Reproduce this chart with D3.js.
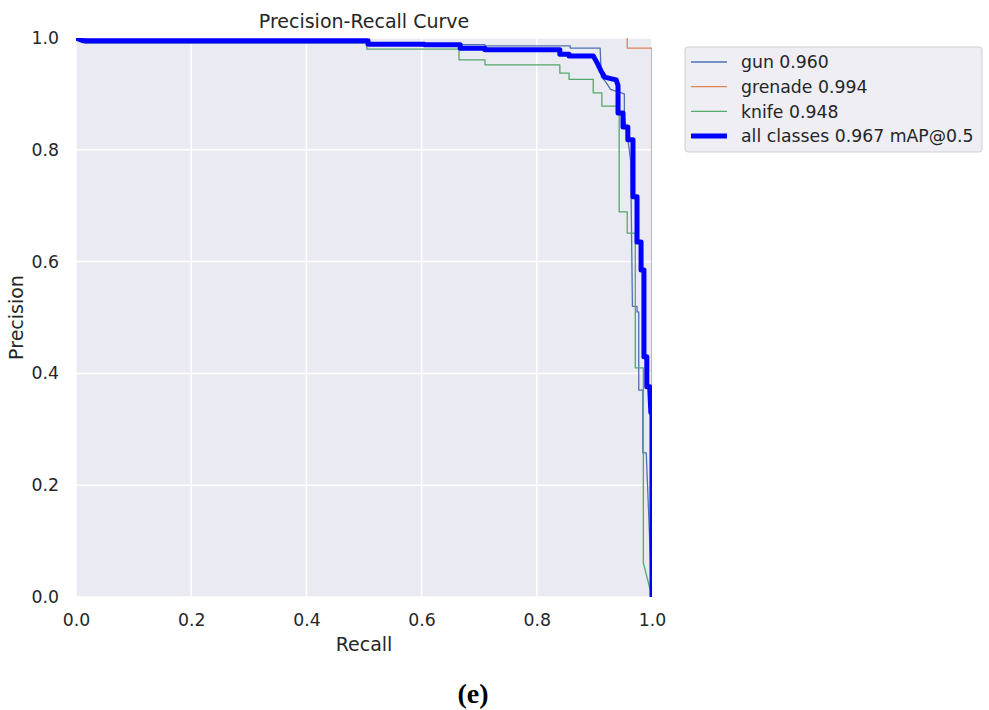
<!DOCTYPE html>
<html>
<head>
<meta charset="utf-8">
<script src="https://cdn.jsdelivr.net/npm/d3@7"></script>
<style>
  body { margin: 0; background: #fff; }
  text { font-family: "DejaVu Sans", sans-serif; fill: #262626; }
</style>
</head>
<body>
<div id="chart"></div>
<script>
// ticks shared by both axes
const ticks = [0, 0.2, 0.4, 0.6, 0.8, 1.0];

// [recall, precision] points
const gunPts = [[0,1],[0.015,1],[0.015,0.991],[0.507,0.991],[0.507,0.988],[0.71,0.988],[0.71,0.986],[0.858,0.986],[0.858,0.982],[0.91,0.982],
  [0.912,0.93],[0.917,0.925],[0.922,0.918],[0.928,0.908],[0.952,0.90],[0.952,0.86],[0.958,0.82],[0.963,0.78],[0.966,0.52],[0.974,0.52],
  [0.974,0.51],[0.977,0.51],[0.977,0.37],[0.984,0.37],[0.984,0.258],[0.99,0.258],[1.0,0]];
const grenadePts = [[0.957,1],[0.957,0.982],[1.0,0.982],[1.0,0]];
const knifePts = [[0,1],[0.01,0.993],[0.505,0.993],[0.505,0.98],[0.665,0.98],[0.665,0.961],[0.71,0.961],[0.71,0.952],[0.84,0.952],[0.84,0.937],
  [0.856,0.937],[0.856,0.926],[0.898,0.926],[0.898,0.902],[0.913,0.902],[0.913,0.878],[0.943,0.878],[0.943,0.689],[0.957,0.689],[0.957,0.651],
  [0.971,0.651],[0.971,0.41],[0.985,0.41],[0.985,0.061],[1.0,0]];
const allPts = [[0,1],[0.012,0.995],[0.507,0.995],[0.507,0.989],[0.605,0.989],[0.605,0.988],[0.667,0.988],[0.667,0.9815],[0.71,0.9815],[0.71,0.979],
  [0.84,0.979],[0.84,0.971],[0.856,0.971],[0.856,0.968],[0.898,0.968],[0.905,0.955],[0.912,0.94],[0.918,0.93],[0.93,0.927],[0.938,0.925],
  [0.941,0.915],[0.941,0.866],[0.9497,0.866],[0.9497,0.841],[0.958,0.841],[0.958,0.818],[0.967,0.818],[0.967,0.716],[0.974,0.716],[0.974,0.635],
  [0.981,0.635],[0.981,0.585],[0.986,0.585],[0.986,0.43],[0.991,0.43],[0.991,0.376],[0.996,0.376],[0.998,0.33],[1.0,0.33],[1.0,0]];

const seriesNames = ["gun 0.960", "grenade 0.994", "knife 0.948", "all classes 0.967 mAP@0.5"];
const seriesColors = ["#4c72b0", "#dd8452", "#55a868", "#0000ff"];
const seriesWidths = [1.3, 1.3, 1.3, 5];
const seriesPts = [gunPts, grenadePts, knifePts, allPts];

const margin = {top: 38, left: 76};
const width = 576, height = 559;

const svg = d3.select("#chart").append("svg")
    .attr("width", 989)
    .attr("height", 710);

const g = svg.append("g")
    .attr("transform", `translate(${margin.left},${margin.top})`);

const x = d3.scaleLinear().domain([0, 1]).range([0, width]);
const y = d3.scaleLinear().domain([0, 1]).range([height, 0]);

// background + grid
g.append("rect")
    .attr("width", width)
    .attr("height", height)
    .attr("fill", "#eaeaf2");

g.selectAll(".gx").data(ticks).join("line")
    .attr("x1", d => x(d)).attr("x2", d => x(d))
    .attr("y1", 0).attr("y2", height)
    .attr("stroke", "#fff").attr("stroke-width", 1.5);

g.selectAll(".gy").data(ticks).join("line")
    .attr("y1", d => y(d)).attr("y2", d => y(d))
    .attr("x1", 0).attr("x2", width)
    .attr("stroke", "#fff").attr("stroke-width", 1.5);

// axes (labels only, seaborn style)
const xAxis = g.append("g")
    .attr("transform", `translate(0,${height})`)
    .call(d3.axisBottom(x).tickValues(ticks).tickFormat(d3.format(".1f")).tickSize(0).tickPadding(17));
const yAxis = g.append("g")
    .call(d3.axisLeft(y).tickValues(ticks).tickFormat(d3.format(".1f")).tickSize(0).tickPadding(17));
[xAxis, yAxis].forEach(a => {
    a.select(".domain").remove();
    a.selectAll("text").attr("font-size", "17.3px").attr("fill", "#262626")
        .attr("font-family", "DejaVu Sans");
});

// curves
svg.append("defs").append("clipPath").attr("id", "clip")
    .append("rect").attr("width", width).attr("height", height);

const line = d3.line().x(d => x(d[0])).y(d => y(d[1]));

const plot = g.append("g").attr("clip-path", "url(#clip)");
seriesPts.forEach((pts, i) => {
    plot.append("path")
        .datum(pts)
        .attr("fill", "none")
        .attr("stroke", seriesColors[i])
        .attr("stroke-width", seriesWidths[i])
        .attr("stroke-linejoin", "round")
        .attr("d", line);
});

// titles
svg.append("text")
    .attr("x", margin.left + width / 2)
    .attr("y", 28)
    .attr("text-anchor", "middle")
    .attr("font-size", "19px")
    .text("Precision-Recall Curve");

svg.append("text")
    .attr("x", margin.left + width / 2)
    .attr("y", 651)
    .attr("text-anchor", "middle")
    .attr("font-size", "19px")
    .text("Recall");

svg.append("text")
    .attr("transform", `translate(23,${margin.top + height / 2}) rotate(-90)`)
    .attr("text-anchor", "middle")
    .attr("font-size", "19px")
    .text("Precision");

svg.append("text")
    .attr("x", 473)
    .attr("y", 703)
    .attr("text-anchor", "middle")
    .attr("font-size", "28px")
    .attr("font-weight", "bold")
    .style("font-family", "'Liberation Serif', serif")
    .style("fill", "#000")
    .text("(e)");

// legend
const legend = svg.append("g").attr("transform", "translate(685,47)");
legend.append("rect")
    .attr("width", 297)
    .attr("height", 105)
    .attr("rx", 3)
    .attr("fill", "#eeeef4")
    .attr("stroke", "#d0d0d0");

seriesNames.forEach((name, i) => {
    const ly = 15 + i * 24.7;
    legend.append("line")
        .attr("x1", 6).attr("x2", 42)
        .attr("y1", ly).attr("y2", ly)
        .attr("stroke", seriesColors[i])
        .attr("stroke-width", seriesWidths[i]);
    legend.append("text")
        .attr("x", 56)
        .attr("y", ly + 6.3)
        .attr("font-size", "17.3px")
        .text(name);
});
</script>
</body>
</html>
